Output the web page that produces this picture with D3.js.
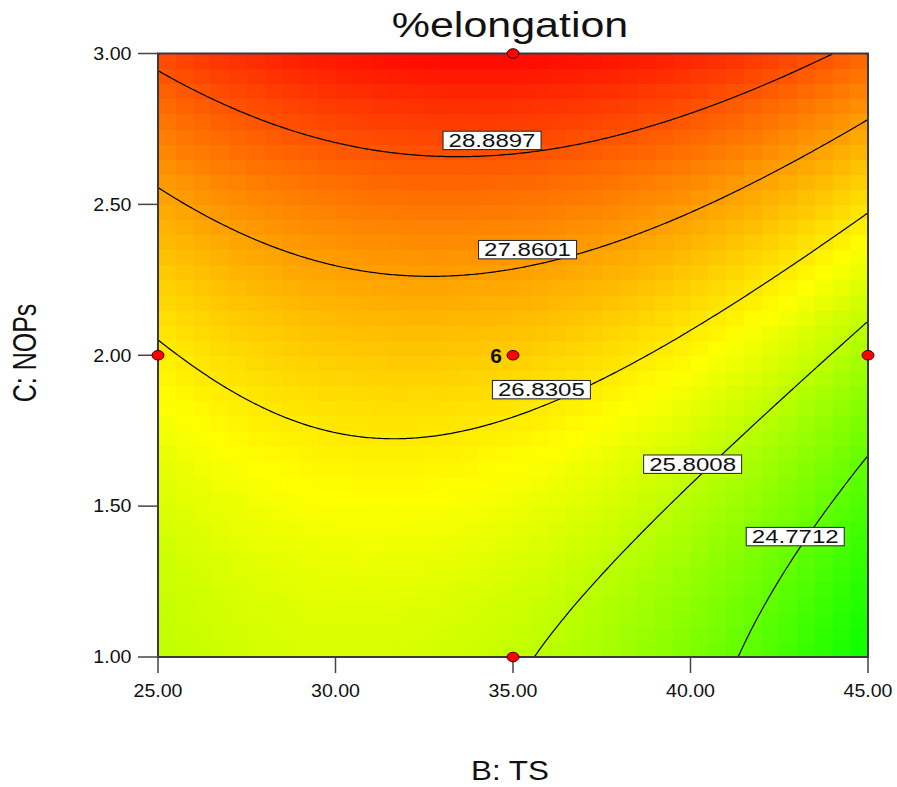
<!DOCTYPE html>
<html>
<head>
<meta charset="utf-8">
<script src="https://cdn.jsdelivr.net/npm/d3@7"></script>
<style>
  html, body { margin: 0; padding: 0; background: #ffffff; }
  svg { display: block; }
  text { font-family: "Liberation Sans", Arial, sans-serif; fill: #111; }
</style>
</head>
<body>
<script>
// Factor ranges (actual units) and axis ticks
const rangeB = [25, 45];          // B: TS
const rangeC = [1, 3];            // C: NOPs
const ticksB = [25, 30, 35, 40, 45];
const ticksC = [1.0, 1.5, 2.0, 2.5, 3.0];

// Quadratic response model for %elongation in coded factors
// terms: intercept, B, C, BC, B^2, C^2
const modelTerms = ["1", "B", "C", "BC", "B2", "C2"];
const modelCoef  = [27.22, -0.616, 2.043, 0.421, -1.09, 0.69];

// Contour levels and where each label sits (B, C)
const contourLevels = [24.7712, 25.8008, 26.8305, 27.8601, 28.8897];
const labelB = [42.95, 40.06, 35.80, 35.41, 34.41];
const labelC = [1.399, 1.639, 1.886, 2.350, 2.712];

// Colour ramp stops: green -> yellow -> red
const colorStops  = [23.66, 26.55, 30.04];
const colorValues = ["#00ff00", "#ffff00", "#ff0000"];

// Design points and their replicate counts
const designB = [35, 25, 35, 45, 35];
const designC = [3, 2, 2, 2, 1];
const designReps = [1, 1, 6, 1, 1];

const W = 897, H = 787;
const margin = { left: 158, right: 868, top: 53.5, bottom: 657 };

const x = d3.scaleLinear().domain(rangeB).range([margin.left, margin.right]);
const y = d3.scaleLinear().domain(rangeC).range([margin.bottom, margin.top]);

function coded(v, r) { return (v - (r[0] + r[1]) / 2) / ((r[1] - r[0]) / 2); }
function response(B, C) {
  const b = coded(B, rangeB), c = coded(C, rangeC);
  const t = [1, b, c, b * c, b * b, c * c];
  return d3.sum(t, (v, i) => v * modelCoef[i]);
}

const color = d3.scaleLinear().domain(colorStops).range(colorValues).clamp(true);

const svg = d3.select("body").append("svg").attr("width", W).attr("height", H);

svg.append("defs").append("clipPath").attr("id", "plotClip")
  .append("rect")
  .attr("x", margin.left).attr("y", margin.top)
  .attr("width", margin.right - margin.left).attr("height", margin.bottom - margin.top);

// Shaded surface: a 40 x 40 grid of cells coloured by the response at each cell centre
const nCells = 40;
const cellW = (rangeB[1] - rangeB[0]) / nCells;
const cellH = (rangeC[1] - rangeC[0]) / nCells;
const cells = [];
for (let j = 0; j < nCells; j++) {
  for (let i = 0; i < nCells; i++) {
    const B0 = rangeB[0] + i * cellW, C0 = rangeC[0] + j * cellH;
    cells.push({ B0, C0, v: response(B0 + cellW / 2, C0 + cellH / 2) });
  }
}
const surface = svg.append("g").attr("clip-path", "url(#plotClip)");
surface.selectAll("rect.cell").data(cells).join("rect")
  .attr("class", "cell")
  .attr("x", d => x(d.B0))
  .attr("y", d => y(d.C0 + cellH))
  .attr("width", x(rangeB[0] + cellW) - x(rangeB[0]) + 0.6)
  .attr("height", y(rangeC[0]) - y(rangeC[0] + cellH) + 0.6)
  .attr("fill", d => color(d.v))
  .attr("shape-rendering", "crispEdges");

// Contour lines from a fine sampling grid
const n = 300, m = 300;
const values = new Float64Array(n * m);
for (let j = 0; j < m; j++) {
  const C = rangeC[1] - (j + 0.5) / m * (rangeC[1] - rangeC[0]);
  for (let i = 0; i < n; i++) {
    const B = rangeB[0] + (i + 0.5) / n * (rangeB[1] - rangeB[0]);
    values[j * n + i] = response(B, C);
  }
}
const contours = d3.contours().size([n, m]).thresholds(contourLevels)(values);
const pw = margin.right - margin.left, ph = margin.bottom - margin.top;
const toPlot = d3.geoTransform({
  point(px, py) { this.stream.point(margin.left + px * pw / n, margin.top + py * ph / m); }
});
surface.selectAll("path.iso").data(contours).join("path")
  .attr("class", "iso")
  .attr("d", d3.geoPath(toPlot))
  .attr("fill", "none")
  .attr("stroke", "#000")
  .attr("stroke-width", 1.2);

// Plot frame
svg.append("rect")
  .attr("x", margin.left).attr("y", margin.top)
  .attr("width", pw).attr("height", ph)
  .attr("fill", "none").attr("stroke", "#3a3a3a").attr("stroke-width", 2);

// Text drawn with a horizontal stretch
function stretched(g, px, py, str, size, sx, anchor, weight) {
  return g.append("text")
    .attr("transform", `translate(${px},${py}) scale(${sx},1)`)
    .attr("text-anchor", anchor || "middle")
    .attr("font-size", size)
    .attr("font-weight", weight || "normal")
    .text(str);
}

// Axes
const axes = svg.append("g");
ticksB.forEach(t => {
  axes.append("line")
    .attr("x1", x(t)).attr("x2", x(t))
    .attr("y1", margin.bottom).attr("y2", margin.bottom + 16)
    .attr("stroke", "#444").attr("stroke-width", 1.5);
  stretched(axes, x(t), 696.5, d3.format(".2f")(t), 17.5, 1.12, "middle");
});
ticksC.forEach(t => {
  axes.append("line")
    .attr("x1", margin.left - 20).attr("x2", margin.left)
    .attr("y1", y(t)).attr("y2", y(t))
    .attr("stroke", "#444").attr("stroke-width", 1.5);
  stretched(axes, 131.5, y(t) + 6.3, d3.format(".2f")(t), 17.5, 1.12, "end");
});

// Contour labels
const labels = svg.append("g");
contourLevels.forEach((lv, i) => {
  const cx = x(labelB[i]), cy = y(labelC[i]);
  labels.append("rect")
    .attr("x", cx - 49).attr("y", cy - 9.2)
    .attr("width", 98).attr("height", 18.4)
    .attr("fill", "#fff").attr("stroke", "#222").attr("stroke-width", 1);
  stretched(labels, cx, cy + 6.8, d3.format(".4f")(lv), 18.5, 1.3, "middle");
});

// Design points
const pts = svg.append("g");
designB.forEach((b, i) => {
  pts.append("ellipse")
    .attr("cx", x(b)).attr("cy", y(designC[i]))
    .attr("rx", 6).attr("ry", 4.8)
    .attr("fill", "#ff0000").attr("stroke", "#400").attr("stroke-width", 1);
  if (designReps[i] > 1) {
    stretched(pts, x(b) - 11, y(designC[i]) + 7.5, String(designReps[i]), 20, 1.05, "end", "bold");
  }
});

// Titles
stretched(svg, 510, 37.3, "%elongation", 35.8, 1.2, "middle");
stretched(svg, 510, 780, "B: TS", 28, 1.12, "middle");
svg.append("text")
  .attr("transform", "translate(35.5,353) rotate(-90) scale(1,1.3)")
  .attr("text-anchor", "middle")
  .attr("font-size", 25)
  .text("C: NOPs");
</script>
</body>
</html>
